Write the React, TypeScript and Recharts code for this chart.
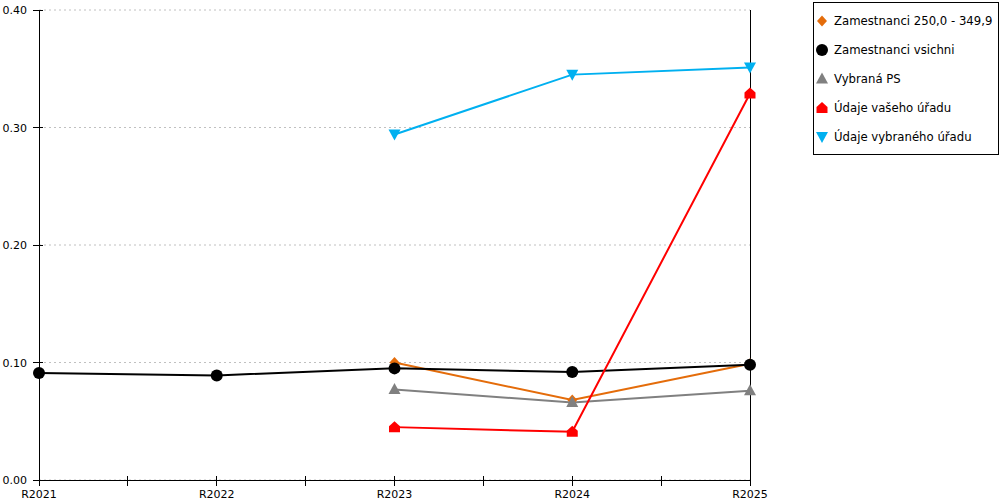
import React from 'react';
import { LineChart, Line, XAxis, YAxis, CartesianGrid } from 'recharts';

const categories = ['R2021', 'R2022', 'R2023', 'R2024', 'R2025'];
const zam250 = [null, null, 0.1, 0.068, 0.099];
const zamAll = [0.091, 0.089, 0.095, 0.092, 0.098];
const vybranaPS = [null, null, 0.077, 0.066, 0.076];
const vasUrad = [null, null, 0.045, 0.041, 0.329];
const vybranyUrad = [null, null, 0.294, 0.345, 0.351];
const yTicks = [0, 0.1, 0.2, 0.3, 0.4];
const xTicks = [0, 0.5, 1, 1.5, 2, 2.5, 3, 3.5, 4];

const data = categories.map((c, i) => ({
  idx: i,
  cat: c,
  zam250: zam250[i],
  zamAll: zamAll[i],
  vybranaPS: vybranaPS[i],
  vasUrad: vasUrad[i],
  vybranyUrad: vybranyUrad[i],
}));

const FONT = '"DejaVu Sans", Verdana, sans-serif';

type Shape = 'diamond' | 'circle' | 'triangle' | 'house' | 'down';

function marker(shape: Shape, cx: number, cy: number, color: string) {
  switch (shape) {
    case 'diamond':
      return <polygon points={`${cx},${cy - 5.5} ${cx + 5},${cy} ${cx},${cy + 5.5} ${cx - 5},${cy}`} fill={color} />;
    case 'circle':
      return <circle cx={cx} cy={cy} r={6} fill={color} />;
    case 'triangle':
      return <polygon points={`${cx},${cy - 6.5} ${cx + 6},${cy + 4.5} ${cx - 6},${cy + 4.5}`} fill={color} />;
    case 'house':
      return <polygon points={`${cx},${cy - 6} ${cx + 5.5},${cy - 1} ${cx + 5.5},${cy + 5} ${cx - 5.5},${cy + 5} ${cx - 5.5},${cy - 1}`} fill={color} />;
    case 'down':
      return <polygon points={`${cx - 6},${cy - 5} ${cx + 6},${cy - 5} ${cx},${cy + 6}`} fill={color} />;
  }
}

const makeDot = (shape: Shape, color: string) => (props: any) => {
  const { cx, cy, index, value } = props;
  if (value == null || cx == null || cy == null || isNaN(cx) || isNaN(cy)) return <g key={`e-${index}`} />;
  return <g key={`d-${index}`}>{marker(shape, cx, cy, color)}</g>;
};

const series = [
  { key: 'zam250', name: 'Zamestnanci 250,0 - 349,9', color: '#E46C0A', shape: 'diamond' as Shape },
  { key: 'zamAll', name: 'Zamestnanci vsichni', color: '#000000', shape: 'circle' as Shape },
  { key: 'vybranaPS', name: 'Vybraná PS', color: '#808080', shape: 'triangle' as Shape },
  { key: 'vasUrad', name: 'Údaje vašeho úřadu', color: '#FF0000', shape: 'house' as Shape },
  { key: 'vybranyUrad', name: 'Údaje vybraného úřadu', color: '#00B0F0', shape: 'down' as Shape },
];

const XTick = (props: any) => {
  const { x, y, payload } = props;
  const v = payload.value;
  const label = Number.isInteger(v) ? categories[v] : '';
  return (
    <g>
      <line x1={x} x2={x} y1={y - 12} y2={y - 2} stroke="#000" strokeWidth={1} shapeRendering="crispEdges" />
      <text x={x} y={y} dy={10} textAnchor="middle" fontSize={11} fontFamily={FONT} fill="#000">
        {label}
      </text>
    </g>
  );
};

const YTick = (props: any) => {
  const { x, y, payload } = props;
  return (
    <g>
      <line x1={x + 6} x2={x + 16} y1={y} y2={y} stroke="#000" strokeWidth={1} shapeRendering="crispEdges" />
      <text x={x} y={y} dy={4} textAnchor="end" fontSize={11} fontFamily={FONT} fill="#000">
        {Number(payload.value).toFixed(2)}
      </text>
    </g>
  );
};

const LegendBox = () => (
  <div
    style={{
      position: 'absolute',
      left: 813,
      top: 2,
      width: 186,
      height: 153,
      border: '1px solid #000',
      boxSizing: 'border-box',
      background: '#fff',
      fontFamily: FONT,
      fontSize: 11.7,
    }}
  >
    {series.map((s, i) => (
      <div key={s.key} style={{ position: 'absolute', left: 0, top: 18 + i * 29 - 8, height: 16 }}>
        <svg width={16} height={16} style={{ position: 'absolute', left: 0, top: 0 }}>
          {marker(s.shape, 8, 8, s.color)}
        </svg>
        <span style={{ position: 'absolute', left: 20, top: 0, whiteSpace: 'nowrap', color: '#000', lineHeight: '16px' }}>{s.name}</span>
      </div>
    ))}
  </div>
);

export default function App() {
  return (
    <div style={{ position: 'absolute', left: 0, top: 0, width: 1000, height: 500, background: '#fff' }}>
      <LineChart width={1000} height={500} data={data} margin={{ top: 10, right: 249, left: 0, bottom: 0 }}>
        <CartesianGrid vertical={false} stroke="#C0C0C0" strokeDasharray="2 3" />
        <XAxis
          dataKey="idx"
          type="number"
          domain={[0, 4]}
          ticks={xTicks}
          interval={0}
          height={20}
          tickSize={6}
          tickMargin={2}
          tickLine={false}
          axisLine={{ stroke: '#000', strokeWidth: 1, shapeRendering: 'crispEdges' }}
          tick={<XTick />}
        />
        <YAxis
          domain={[0, 0.4]}
          ticks={yTicks}
          width={39}
          tickSize={6}
          tickMargin={6}
          tickLine={false}
          axisLine={{ stroke: '#000', strokeWidth: 1, shapeRendering: 'crispEdges' }}
          tick={<YTick />}
        />
        <YAxis
          yAxisId="right"
          orientation="right"
          domain={[0, 0.4]}
          ticks={yTicks}
          width={1}
          tick={false}
          tickLine={false}
          axisLine={{ stroke: '#000', strokeWidth: 1, shapeRendering: 'crispEdges' }}
        />
        {series.map((s) => (
          <Line
            key={s.key}
            type="linear"
            dataKey={s.key}
            name={s.name}
            stroke={s.color}
            strokeWidth={2}
            dot={makeDot(s.shape, s.color)}
            activeDot={false}
            connectNulls={false}
            isAnimationActive={false}
          />
        ))}
      </LineChart>
      <LegendBox />
    </div>
  );
}
